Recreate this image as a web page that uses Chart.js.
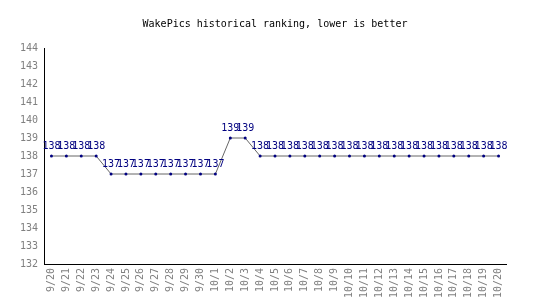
<!DOCTYPE html>
<html>
<head>
<meta charset="utf-8">
<script src="https://cdn.jsdelivr.net/npm/chart.js@4"></script>
<style>
  html, body { margin: 0; padding: 0; background: #fff; }
  #wrap { width: 550px; height: 300px; }
</style>
</head>
<body>
<div id="wrap"><canvas id="rankChart"></canvas></div>
<script>
// ranking history, one value per day
const dayLabels = [
    '9/20', '9/21', '9/22', '9/23', '9/24', '9/25', '9/26', '9/27', '9/28', '9/29', '9/30',
    '10/1', '10/2', '10/3', '10/4', '10/5', '10/6', '10/7', '10/8', '10/9', '10/10',
    '10/11', '10/12', '10/13', '10/14', '10/15', '10/16', '10/17', '10/18', '10/19', '10/20'
];
const rankValues = [
    138, 138, 138, 138, 137, 137, 137, 137, 137, 137, 137,
    137, 139, 139, 138, 138, 138, 138, 138, 138, 138,
    138, 138, 138, 138, 138, 138, 138, 138, 138, 138
];
const yMin = 132;
const yMax = 144;

const monoFont = "'DejaVu Sans Mono', monospace";

// draws the value above every point
const valueLabels = {
    id: 'valueLabels',
    afterDatasetsDraw(chart) {
        const { ctx } = chart;
        const meta = chart.getDatasetMeta(0);
        ctx.save();
        ctx.font = '10px ' + monoFont;
        ctx.fillStyle = '#000080';
        ctx.textAlign = 'center';
        ctx.textBaseline = 'bottom';
        meta.data.forEach((pt, i) => {
            ctx.fillText(String(rankValues[i]), pt.x, pt.y - 5);
        });
        ctx.restore();
    }
};

new Chart(document.getElementById('rankChart'), {
    type: 'line',
    data: {
        labels: dayLabels,
        datasets: [{
            data: rankValues,
            borderColor: '#666666',
            borderWidth: 1,
            pointRadius: 1.5,
            pointBackgroundColor: '#000080',
            pointBorderColor: '#000080',
            pointBorderWidth: 0,
            tension: 0
        }]
    },
    options: {
        responsive: true,
        maintainAspectRatio: false,
        animation: false,
        layout: { padding: { left: 0, right: 0, top: 18, bottom: 0 } },
        plugins: {
            legend: { display: false },
            tooltip: { enabled: false },
            title: {
                display: true,
                text: 'WakePics historical ranking, lower is better',
                color: '#000',
                font: { family: monoFont, size: 10, weight: 'normal' },
                padding: { top: 0, bottom: 18 }
            }
        },
        scales: {
            x: {
                offset: true,
                grid: { display: false, drawTicks: false },
                border: { display: true, color: '#000', width: 1 },
                ticks: {
                    color: '#808080',
                    font: { family: monoFont, size: 10 },
                    minRotation: 90,
                    maxRotation: 90,
                    autoSkip: false,
                    padding: 4
                },
                afterFit(scale) { scale.height = 36; }
            },
            y: {
                min: yMin,
                max: yMax,
                grid: { display: false, drawTicks: false },
                border: { display: true, color: '#000', width: 1 },
                ticks: {
                    stepSize: 1,
                    color: '#808080',
                    font: { family: monoFont, size: 10 },
                    padding: 6
                },
                afterFit(scale) { scale.width = 44; }
            },
            // empty right-hand axis, only keeps the right margin
            yRight: {
                position: 'right',
                min: yMin,
                max: yMax,
                grid: { display: false, drawTicks: false },
                border: { display: false },
                ticks: { display: false },
                afterFit(scale) { scale.width = 44; }
            }
        }
    },
    plugins: [valueLabels]
});
</script>
</body>
</html>
